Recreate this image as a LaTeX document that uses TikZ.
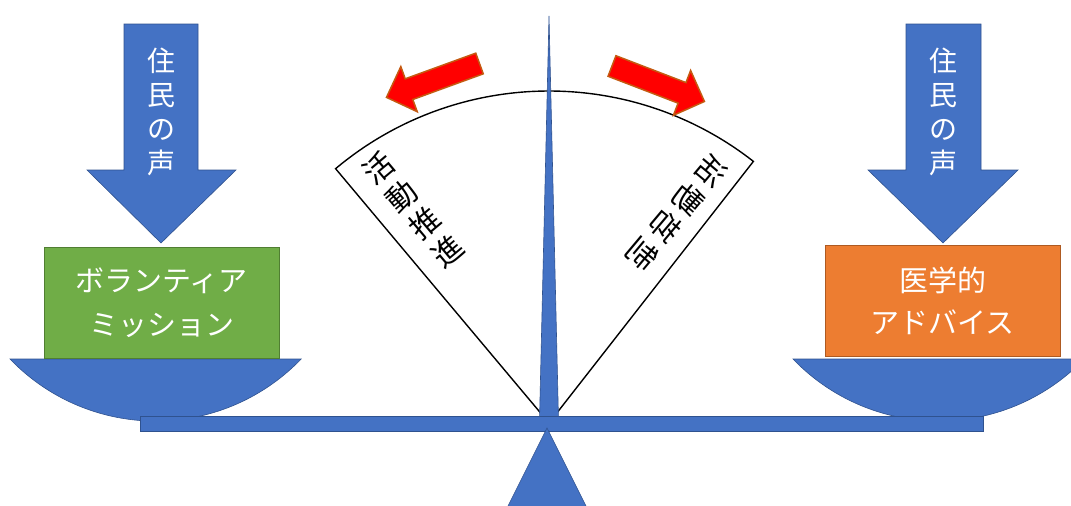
\documentclass[tikz,border=0pt]{standalone}
\usepackage{fontspec}
\usepackage{graphicx}
\newfontfamily\jp{Noto Sans CJK JP}
\definecolor{pblue}{HTML}{4472C4}
\definecolor{pblueline}{HTML}{2F528F}
\definecolor{pgreen}{HTML}{70AD47}
\definecolor{pgreenline}{HTML}{507E32}
\definecolor{porange}{HTML}{ED7D31}
\definecolor{porangeline}{HTML}{AE5A21}
\definecolor{predline}{HTML}{C55A11}
\begin{document}
\begin{tikzpicture}[x=1pt,y=-1pt,
  bluepart/.style={fill=pblue,draw=pblueline,line width=0.6pt},
  fan/.style={fill=white,draw=black,line width=1.4pt},
  redarrow/.style={fill=red,draw=predline,line width=1.5pt,line join=miter},
  greenbox/.style={fill=pgreen,draw=pgreenline,line width=0.8pt,minimum width=235pt,minimum height=111pt,inner sep=0pt,align=center,text=white,font=\jp\fontsize{29}{44}\selectfont},
  orangebox/.style={fill=porange,draw=porangeline,line width=0.8pt,minimum width=235pt,minimum height=111pt,inner sep=0pt,align=center,text=white,font=\jp\fontsize{29}{42}\selectfont},
  voice/.style={text=white,inner sep=0pt,font=\jp\fontsize{28}{34}\selectfont},
  fantext/.style={text=black,inner sep=0pt,font=\jp\fontsize{30}{36}\selectfont}
]
\useasboundingbox (0,0) rectangle (1071,506);
\clip (0,0) rectangle (1071,506);

% sector (fan)
\coordinate (C) at (549,423);
\draw[fan] (C) -- ++(-130:332) arc[start angle=-130, end angle=-52, radius=332] -- cycle;

% sector labels
\node[fantext, rotate=40] (push) at (416,213) {\begin{tabular}{@{}c@{}}活\\動\\推\\進\end{tabular}};
\node[fantext, rotate=-40] (hold) at (674,216) {\reflectbox{\begin{tabular}{@{}c@{}}活\\動\\抑\\制\end{tabular}}};

% needle
\filldraw[bluepart] (549,16) -- (558.5,420) -- (539.5,420) -- cycle;

% pans
\filldraw[bluepart] (10,359) arc[start angle=136.2, end angle=43.8, radius=201.7] -- cycle;
\filldraw[bluepart] (793,359) arc[start angle=136.2, end angle=43.8, radius=201.7] -- cycle;

% beam
\filldraw[bluepart] (140,416) rectangle (983,431);
% fulcrum
\filldraw[bluepart] (547,428) -- (596,526) -- (498,526) -- cycle;

% weights
\node[greenbox] (vol) at (161.5,302.5) {ボランティア\\ミッション};
\node[orangebox] (med) at (942.5,300.5) {医学的\\アドバイス};

% voice arrows
\filldraw[bluepart] (124,24) -- (198,24) -- (198,170) -- (236,170) -- (161,243) -- (87,170) -- (124,170) -- cycle;
\node[voice] (voiceL) at (161,116) {\begin{tabular}{@{}c@{}}住\\民\\の\\声\end{tabular}};
\filldraw[bluepart] (906,24) -- (981,24) -- (981,170) -- (1018,170) -- (943,243) -- (868,170) -- (906,170) -- cycle;
\node[voice] (voiceR) at (943.5,116) {\begin{tabular}{@{}c@{}}住\\民\\の\\声\end{tabular}};

% red arrows
\begin{scope}[shift={(479.5,63.5)}, rotate=200]
\filldraw[redarrow] (0,-11) -- (75,-11) -- (75,-24) -- (99,0) -- (75,24) -- (75,11) -- (0,11) -- cycle;
\end{scope}
\begin{scope}[shift={(612,66)}, rotate=-21]
\filldraw[redarrow] (0,-11) -- (75,-11) -- (75,-24) -- (99,0) -- (75,24) -- (75,11) -- (0,11) -- cycle;
\end{scope}
\end{tikzpicture}
\end{document}
